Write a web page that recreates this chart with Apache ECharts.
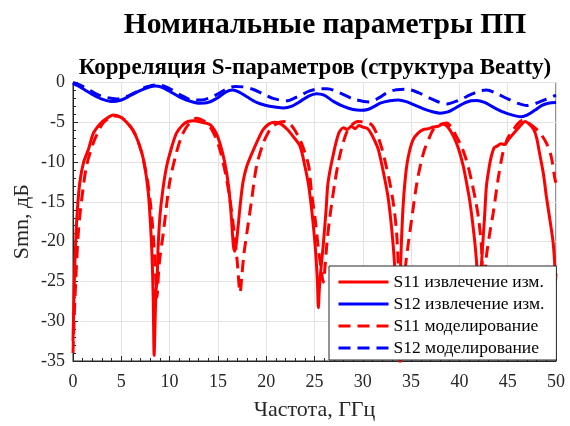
<!DOCTYPE html>
<html><head><meta charset="utf-8">
<script src="https://cdn.jsdelivr.net/npm/echarts@6/dist/echarts.min.js"></script>
<style>html,body{margin:0;padding:0;background:#fff}#c{width:570px;height:426px}</style>
</head><body><div id="c"></div>
<script>
var titleText = "Номинальные параметры ПП";
var subtitleText = "Корреляция S-параметров (структура Beatty)";
var xName = "Частота, ГГц";
var yName = "Smn, дБ";
var seriesNames = ["S11 извлечение изм.", "S12 извлечение изм.", "S11 моделирование", "S12 моделирование"];
var xTicks = [0, 5, 10, 15, 20, 25, 30, 35, 40, 45, 50];
var yTicks = [0, -5, -10, -15, -20, -25, -30, -35];

var s11MeasFreq = [0.0,0.1,0.2,0.4,0.7,1.1,1.6,2.1,2.8,3.5,4.2,5.0,5.7,6.2,6.8,7.3,7.8,8.15,8.3,8.4,8.5,8.6,8.7,8.8,9.0,9.3,9.7,10.2,10.7,11.3,11.9,12.5,13.3,14.2,14.8,15.2,15.7,16.1,16.4,16.6,16.75,16.9,17.1,17.3,17.6,18.0,18.7,19.3,19.7,20.3,20.9,21.5,22.2,22.8,23.5,24.0,24.4,24.8,25.1,25.3,25.4,25.5,25.7,25.9,26.2,26.4,26.9,27.5,28.0,28.4,28.8,29.2,29.6,30.0,30.5,30.9,31.3,31.6,32.0,32.6,33.0,33.3,33.5,33.65,33.8,34.0,34.2,34.5,34.8,35.2,35.7,36.3,36.8,37.3,37.8,38.3,38.8,39.4,39.9,40.4,40.8,41.1,41.5,41.8,41.95,42.05,42.2,42.3,42.6,42.8,43.1,43.3,43.6,43.9,44.3,44.7,45.0,45.4,45.9,46.4,46.8,47.2,47.7,48.0,48.3,48.7,49.0,49.4,49.7,49.85,49.95,50.0];
var s11MeasDb = [-32.5,-27,-22.5,-17,-12.6,-10,-8.4,-6.4,-5.2,-4.5,-4.1,-4.4,-5.2,-6.0,-7.6,-9.7,-13.9,-20.9,-27,-34.3,-30,-26,-25,-21,-16.8,-13.5,-10.5,-8.2,-6.4,-5.4,-4.9,-4.8,-5.0,-5.3,-6.3,-7.6,-10,-13,-17,-20.5,-21.2,-20.3,-18,-15.5,-12.5,-10.5,-8.4,-6.8,-5.9,-5.2,-5.0,-5.2,-5.9,-6.8,-8.0,-10.5,-13,-17,-21,-25,-28.3,-26,-23,-20.5,-16,-12.6,-9.3,-6.4,-5.7,-5.9,-5.5,-5.8,-5.4,-5.6,-5.8,-6.5,-7.5,-8.4,-10.5,-14.3,-18.5,-23,-28,-31,-27,-20,-15,-10.9,-8.8,-7.2,-6.4,-5.9,-5.8,-5.6,-5.5,-5.2,-5.6,-6.8,-8.3,-10.5,-13,-15.1,-19,-23,-28,-30,-26,-22.6,-17,-13,-10.5,-9.3,-8.2,-8.0,-7.7,-7.8,-7.3,-6.7,-6.0,-5.3,-4.9,-5.2,-5.9,-7.0,-8.9,-11.5,-14.3,-17.5,-20.1,-22.5,-25.3,-24];

var s12MeasFreq = [0,0.5,1.2,2.0,3.0,4.0,5.0,6.0,7.0,8.0,8.5,9.2,10.0,11.0,12.0,13.1,14.0,15.0,15.8,16.5,17.2,18.0,19.0,20.0,21.0,21.8,22.6,23.5,24.4,25.2,26.0,27.0,28.0,29.0,29.8,30.5,31.2,31.8,32.8,33.7,34.5,35.5,36.5,37.3,38.0,38.8,39.6,40.5,41.2,41.8,42.6,43.5,44.5,45.5,46.4,47.0,47.8,48.5,49.2,50.0];
var s12MeasDb = [-0.1,-0.4,-0.9,-1.5,-2.1,-2.4,-2.2,-1.6,-1.0,-0.55,-0.45,-0.6,-1.1,-1.8,-2.3,-2.6,-2.5,-1.9,-1.2,-0.95,-1.2,-1.8,-2.5,-2.9,-3.1,-3.2,-3.0,-2.4,-1.7,-1.4,-1.6,-2.4,-3.0,-3.4,-3.5,-3.4,-3.0,-2.6,-2.3,-2.2,-2.4,-2.9,-3.4,-3.7,-3.85,-3.7,-3.2,-2.6,-2.3,-2.25,-2.5,-3.1,-3.7,-4.1,-4.3,-4.1,-3.5,-2.9,-2.6,-2.5];

var s11ModFreq = [0.0,0.2,0.55,0.9,1.4,2.1,2.6,3.1,3.7,4.2,5.0,5.8,6.4,7.0,7.6,8.0,8.3,8.5,8.7,8.85,9.0,9.35,10.0,10.7,11.3,12.0,12.8,13.5,14.2,14.8,15.2,15.8,16.25,16.7,17.0,17.3,17.5,17.7,18.0,18.5,19.0,19.7,20.2,20.7,21.4,22.1,22.8,23.5,24.0,24.4,24.7,25.1,25.4,25.7,25.9,26.1,26.3,26.6,27.1,27.6,28.3,28.9,29.5,30.2,30.9,31.5,32.0,32.4,32.8,33.2,33.5,33.7,33.85,34.0,34.2,34.5,35.1,35.6,36.0,36.4,36.9,37.3,38.0,38.7,39.2,39.7,40.2,40.6,41.0,41.3,41.7,42.0,42.3,42.5,42.65,42.8,43.2,43.5,44.0,44.5,45.0,45.6,46.1,46.6,47.3,48.0,48.5,49.0,49.5,49.9,50.0];
var s11ModDb = [-34,-27.2,-18.9,-14.7,-10.5,-7.6,-6.2,-5.1,-4.5,-4.2,-4.4,-5.3,-6.4,-8.4,-11.5,-15,-19,-23,-27,-24,-22,-18.9,-12.6,-8.85,-6.6,-5.2,-4.5,-4.8,-5.6,-7.0,-8.4,-11.5,-14.7,-19,-22.5,-26.4,-24,-21.5,-18.9,-14.7,-10.5,-7.6,-6.3,-5.5,-5.0,-4.9,-5.7,-7.2,-8.8,-10.5,-13.9,-17.5,-20.9,-23.5,-25.1,-23,-20,-16.8,-12.6,-9.3,-6.35,-5.3,-4.9,-5.0,-5.3,-6.6,-8.4,-10.4,-12.6,-15.5,-18.9,-24,-35.5,-30,-26,-22.2,-16.8,-12.6,-10.2,-8.4,-6.9,-5.9,-5.3,-5.1,-5.7,-6.8,-8.0,-9.3,-11,-12.6,-15,-17.2,-21,-27,-24.5,-21.8,-18.5,-16.4,-12.2,-8.85,-7.0,-5.9,-5.1,-4.7,-5.2,-5.9,-6.6,-7.6,-9.3,-12.2,-12.6];

var s12ModFreq = [0,0.7,1.5,2.5,3.5,4.5,5.5,6.5,7.5,8.5,9.3,10.2,11.2,12.4,13.3,14.2,14.9,15.6,16.3,16.8,17.6,18.6,19.6,20.7,22.1,23.2,24.5,25.4,26.3,27.6,29.0,30.7,31.7,32.5,33.5,34.5,35.8,37.0,38.7,40.0,41.1,42.0,42.8,43.9,44.9,46.0,47.0,48.2,49.0,50.0];
var s12ModDb = [0,-0.3,-0.8,-1.5,-1.9,-2.06,-1.8,-1.2,-0.6,-0.3,-0.4,-0.9,-1.6,-2.2,-2.2,-1.9,-1.5,-1.0,-0.6,-0.5,-0.55,-0.85,-1.4,-2.0,-2.3,-1.8,-1.06,-0.8,-0.78,-1.3,-2.06,-2.45,-1.9,-1.3,-0.9,-0.85,-1.3,-2.0,-2.7,-2.2,-1.56,-1.1,-0.94,-1.4,-2.0,-2.6,-2.9,-2.5,-2.1,-1.6];

function pairs(f, v) { return f.map(function (x, i) { return [x, v[i]]; }); }

var chart = echarts.init(document.getElementById('c'), null, { renderer: 'canvas' });
var serif = '"Liberation Serif", "Times New Roman", "DejaVu Serif", serif';
var dashPat = [12, 7];
chart.setOption({
  animation: false,
  backgroundColor: '#ffffff',
  title: [
    { text: titleText, left: 320, top: 5, textAlign: 'center',
      textStyle: { fontFamily: serif, fontSize: 29.5, fontWeight: 'bold', color: '#000' } },
    { text: subtitleText, left: 310, top: 52, textAlign: 'center',
      textStyle: { fontFamily: serif, fontSize: 23, fontWeight: 'bold', color: '#000' } }
  ],
  grid: { left: 73, right: 14, top: 82.5, bottom: 63.5, show: true, borderColor: '#262626', borderWidth: 1, backgroundColor: 'transparent' },
  legend: {
    orient: 'vertical', left: 329, top: 266,
    itemWidth: 50, itemHeight: 14, itemGap: 4,
    padding: [7, 12, 3, 8],
    backgroundColor: '#ffffff', borderColor: '#262626', borderWidth: 1, borderRadius: 0,
    textStyle: { fontFamily: serif, fontSize: 17.5, color: '#000' },
    itemStyle: { opacity: 0 },
    lineStyle: { width: 3 },
    data: seriesNames
  },
  xAxis: {
    type: 'value', min: xTicks[0], max: xTicks[xTicks.length - 1], interval: 5,
    name: xName, nameLocation: 'middle', nameGap: 38, nameMoveOverlap: false,
    nameTextStyle: { fontFamily: serif, fontSize: 22, color: '#262626' },
    axisLine: { show: true, onZero: false, lineStyle: { color: '#262626', width: 1 } },
    axisTick: { show: true, inside: true, length: 5, lineStyle: { color: '#262626' } },
    minorTick: { show: true, splitNumber: 5, length: 3, lineStyle: { color: '#262626' } },
    axisLabel: { fontFamily: serif, fontSize: 18, color: '#262626', margin: 12 },
    splitLine: { show: true, lineStyle: { color: '#e3e3e3', width: 1 } }
  },
  yAxis: {
    type: 'value', min: yTicks[yTicks.length - 1], max: yTicks[0], interval: 5,
    name: yName, nameLocation: 'middle', nameGap: 40, nameRotate: 90, nameMoveOverlap: false,
    nameTextStyle: { fontFamily: serif, fontSize: 22, color: '#262626' },
    axisLine: { show: true, onZero: false, lineStyle: { color: '#262626', width: 1 } },
    axisTick: { show: true, inside: true, length: 5, lineStyle: { color: '#262626' } },
    minorTick: { show: true, splitNumber: 5, length: 3, lineStyle: { color: '#262626' } },
    axisLabel: { fontFamily: serif, fontSize: 18, color: '#262626', margin: 8 },
    splitLine: { show: true, lineStyle: { color: '#e3e3e3', width: 1 } }
  },
  series: [
    { name: seriesNames[0], type: 'line', data: pairs(s11MeasFreq, s11MeasDb), showSymbol: false, symbol: 'none', smooth: 0.3,
      lineStyle: { color: '#ff0000', width: 3 }, itemStyle: { color: '#ff0000' } },
    { name: seriesNames[1], type: 'line', data: pairs(s12MeasFreq, s12MeasDb), showSymbol: false, symbol: 'none', smooth: 0.3,
      lineStyle: { color: '#0000ff', width: 3 }, itemStyle: { color: '#0000ff' } },
    { name: seriesNames[2], type: 'line', data: pairs(s11ModFreq, s11ModDb), showSymbol: false, symbol: 'none', smooth: 0.3,
      lineStyle: { color: '#ff0000', width: 3, type: dashPat }, itemStyle: { color: '#ff0000' } },
    { name: seriesNames[3], type: 'line', data: pairs(s12ModFreq, s12ModDb), showSymbol: false, symbol: 'none', smooth: 0.3,
      lineStyle: { color: '#0000ff', width: 3, type: dashPat }, itemStyle: { color: '#0000ff' } }
  ]
});
</script>
</body></html>
